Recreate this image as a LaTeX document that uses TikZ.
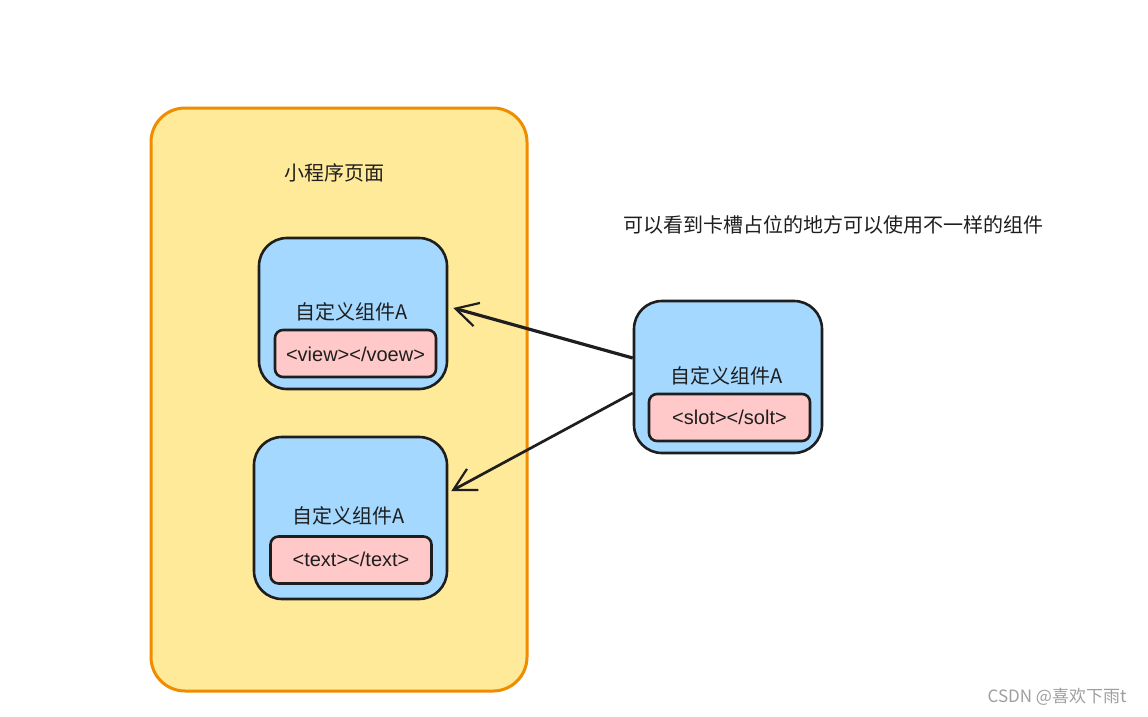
\documentclass[tikz,border=0pt]{standalone}
\usepackage{fontspec}
\setmainfont{Liberation Sans}
\newfontfamily\cjk{Noto Sans CJK SC}
\usetikzlibrary{arrows.meta}
\definecolor{yfill}{HTML}{FFEA99}
\definecolor{ostroke}{HTML}{F08C00}
\definecolor{bfill}{HTML}{A5D8FF}
\definecolor{pfill}{HTML}{FFC9C9}
\definecolor{ink}{HTML}{1E1E1E}
\tikzset{
  page/.style={draw=ostroke, fill=yfill, line width=3pt, rounded corners=34pt, minimum width=376pt, minimum height=583pt, inner sep=0pt},
  comp/.style={draw=ink, fill=bfill, line width=2.6pt, rounded corners=28pt, inner sep=0pt},
  tag/.style={draw=ink, fill=pfill, line width=2.6pt, rounded corners=8pt, inner sep=0pt, minimum width=161pt, minimum height=47pt},
  lbl/.style={font=\cjk\fontsize{20}{24}\selectfont, text=ink, inner sep=0pt},
  code/.style={font=\fontsize{20}{24}\selectfont, text=ink, inner sep=0pt},
  conn/.style={draw=ink, line width=3.2pt, -{Straight Barb[length=22pt, width=24pt, line width=2.2pt]}},
}
\begin{document}
\begin{tikzpicture}[x=1pt, y=-1pt]
\useasboundingbox (0,0) rectangle (1148,717);
\fill[white] (0,0) rectangle (1148,717);
% page
\node[page] (page) at (339,399.5) {};
\node[lbl] (title) at (334,173) {小程序页面};
% component 1
\node[comp, minimum width=188pt, minimum height=151pt] (b1) at (353,313.5) {};
\node[lbl] (l1) at (352,312) {自定义组件\textit{A}};
\node[tag] (t1) at (355.5,353.5) {};
\node[code] (c1) at (355.5,354) {<view></voew>};
% component 2
\node[comp, minimum width=193pt, minimum height=162pt] (b2) at (350.5,518) {};
\node[lbl] (l2) at (349,516) {自定义组件\textit{A}};
\node[tag] (t2) at (351,560) {};
\node[code] (c2) at (351,559) {<text></text>};
% component 3
\node[comp, minimum width=188pt, minimum height=152pt] (b3) at (728,377) {};
\node[lbl] (l3) at (727,376) {自定义组件\textit{A}};
\node[tag] (t3) at (729.5,417.5) {};
\node[code] (c3) at (729.5,417) {<slot></solt>};
% connectors
\draw[conn] ([yshift=19pt]b3.west) -- ([xshift=5pt,yshift=5.5pt]b1.east);
\draw[conn, line width=2.7pt] ([yshift=-16pt]b3.west) -- ([xshift=3pt,yshift=27pt]b2.east);
% notes
\node[lbl] (note) at (833,225) {可以看到卡槽占位的地方可以使用不一样的组件};
\node[font=\cjk\fontsize{17}{20}\selectfont, text=gray!75, inner sep=0pt] (wm) at (1057,697) {CSDN @喜欢下雨t};
\end{tikzpicture}
\end{document}
